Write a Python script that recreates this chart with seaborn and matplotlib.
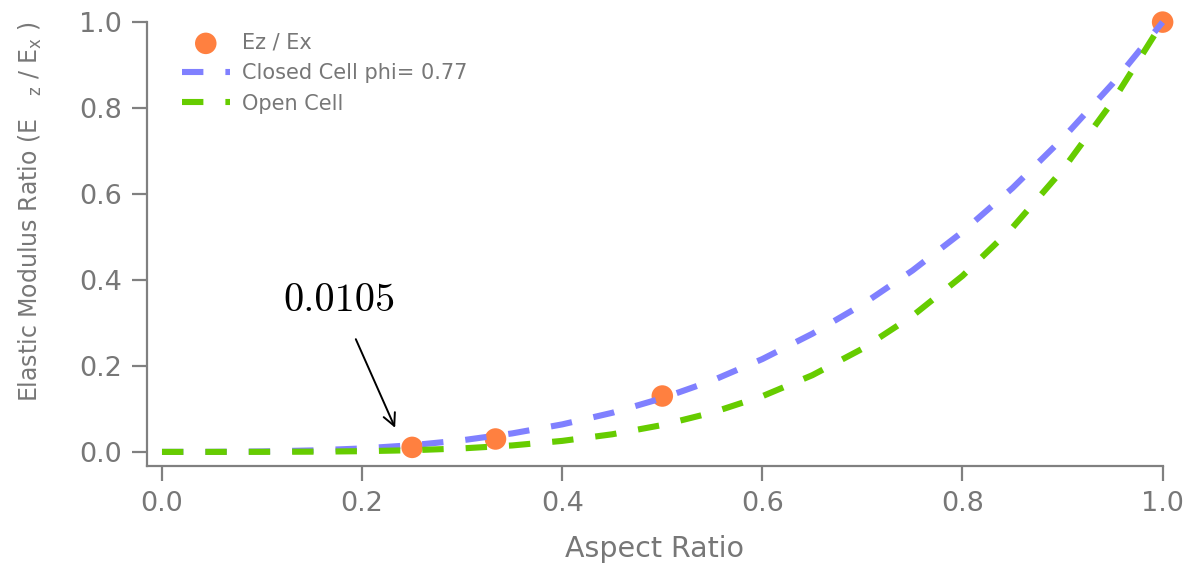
import matplotlib
matplotlib.use("Agg")
import matplotlib.pyplot as plt
import seaborn as sns
import pandas as pd

# ---- data ----
aspect_grid = [0.0, 0.05, 0.10, 0.15, 0.20, 0.25, 0.30, 0.35, 0.40, 0.45, 0.50,
               0.55, 0.60, 0.65, 0.70, 0.75, 0.80, 0.85, 0.90, 0.95, 1.0]
closed_cell = [0.0, 0.0001, 0.001, 0.0034, 0.008, 0.0156, 0.027, 0.043, 0.064, 0.091, 0.125,
               0.166, 0.216, 0.275, 0.343, 0.422, 0.512, 0.614, 0.729, 0.857, 1.0]
open_cell = [0.0, 0.0, 0.0001, 0.0005, 0.0016, 0.0039, 0.0081, 0.015, 0.0256, 0.041, 0.0625,
             0.0915, 0.1296, 0.1785, 0.2401, 0.3164, 0.4096, 0.522, 0.656, 0.815, 1.0]
meas_aspect = [0.25, 0.3333, 0.5, 1.0]
meas_ratio = [0.0105, 0.03, 0.13, 1.0]
ticks = [0.0, 0.2, 0.4, 0.6, 0.8, 1.0]
annot_text = "0.0105"

GRAY = "#777777"
SPINE = "#808080"
BLUE = "#8080FF"
GREEN = "#66CC00"
ORANGE = "#FF8040"

sns.set_style("white")
plt.rcParams["font.family"] = ["DejaVu Sans"]

fig = plt.figure(figsize=(11.9, 5.67), dpi=100)
ax = fig.add_axes([0.1235, 0.178, 0.8535, 0.783])

df_curves = pd.DataFrame({"x": aspect_grid, "closed": closed_cell, "open": open_cell})
df_pts = pd.DataFrame({"x": meas_aspect, "y": meas_ratio})

dash = (0, (3.5, 3.6))
sns.scatterplot(data=df_pts, x="x", y="y", ax=ax, s=240, color=ORANGE,
                edgecolor="none", zorder=2, label="Ez / Ex", clip_on=False)
sns.lineplot(data=df_curves, x="x", y="closed", ax=ax, color=BLUE, lw=4.4,
             linestyle=dash, zorder=3, label="Closed Cell phi= 0.77", clip_on=False)
sns.lineplot(data=df_curves, x="x", y="open", ax=ax, color=GREEN, lw=4.4,
             linestyle=dash, zorder=3, label="Open Cell", clip_on=False)

ax.set_xlim(-0.015, 1.0)
ax.set_ylim(-0.033, 1.0)
ax.set_xticks(ticks)
ax.set_yticks(ticks)
ax.set_xticklabels([f"{t:.1f}" for t in ticks])
ax.set_yticklabels([f"{t:.1f}" for t in ticks])
ax.tick_params(axis="both", direction="out", length=11, width=1.6, colors=SPINE,
               labelcolor=GRAY, labelsize=19.5, pad=7, bottom=True, left=True)
for s in ["top", "right"]:
    ax.spines[s].set_visible(False)
for s in ["left", "bottom"]:
    ax.spines[s].set_color(SPINE)
    ax.spines[s].set_linewidth(1.6)

ax.set_xlabel("Aspect Ratio", fontsize=20.5, color=GRAY, labelpad=13)
ax.set_ylabel(r"Elastic Modulus Ratio (E   $_{\mathrm{z}}$ / E$_{\mathrm{x}}$ )",
              fontsize=17, color=GRAY)
ax.yaxis.set_label_coords(-0.101, 0.574)

ax.annotate(annot_text, xy=(0.233, 0.056), xytext=(0.177, 0.35),
            fontsize=29, family="cmr10", color="black", ha="center", va="center",
            arrowprops=dict(arrowstyle="->", color="black", lw=1.4,
                            mutation_scale=22, shrinkA=13, shrinkB=0))

h, l = ax.get_legend_handles_labels()
leg = ax.legend(h, l, loc="upper left", bbox_to_anchor=(0.022, 1.004), frameon=False,
                fontsize=15, handlelength=2.3, labelspacing=0.5, handletextpad=0.6,
                borderaxespad=0.2)
for t in leg.get_texts():
    t.set_color(GRAY)

fig.savefig("out.png", dpi=100)
